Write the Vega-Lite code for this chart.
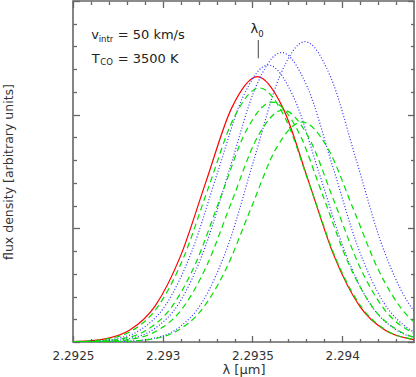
{
  "$schema": "https://vega.github.io/schema/vega-lite/v6.json",
  "width": 341,
  "height": 341,
  "autosize": {"type": "none"},
  "padding": {"left": 73, "top": 1, "right": 2, "bottom": 35},
  "config": {
    "view": {"stroke": "#666", "strokeWidth": 1.6},
    "font": "DejaVu Sans",
    "axis": {"grid": false, "domain": false, "labelFont": "DejaVu Sans", "titleFont": "DejaVu Sans", "titleFontWeight": "normal", "tickColor": "#666", "tickWidth": 1.3, "labelColor": "#333", "titleColor": "#333"}
  },
  "datasets": {
    "curves": [
      {"curve": "R", "lam": 2.292387, "flux": 0.0008},
      {"curve": "R", "lam": 2.2925295, "flux": 0.0051},
      {"curve": "R", "lam": 2.292672, "flux": 0.0259},
      {"curve": "R", "lam": 2.2928145, "flux": 0.1026},
      {"curve": "R", "lam": 2.292957, "flux": 0.3159},
      {"curve": "R", "lam": 2.2930995, "flux": 0.7577},
      {"curve": "R", "lam": 2.293242, "flux": 1.4156},
      {"curve": "R", "lam": 2.2933845, "flux": 2.0598},
      {"curve": "R", "lam": 2.293527, "flux": 2.334},
      {"curve": "R", "lam": 2.2936695, "flux": 2.0598},
      {"curve": "R", "lam": 2.293812, "flux": 1.4156},
      {"curve": "R", "lam": 2.2939545, "flux": 0.7577},
      {"curve": "R", "lam": 2.294097, "flux": 0.3159},
      {"curve": "R", "lam": 2.2942395, "flux": 0.1026},
      {"curve": "R", "lam": 2.294382, "flux": 0.0259},
      {"curve": "R", "lam": 2.2945245, "flux": 0.0051},
      {"curve": "B1", "lam": 2.292448, "flux": 0.0008},
      {"curve": "B1", "lam": 2.2925905, "flux": 0.0053},
      {"curve": "B1", "lam": 2.292733, "flux": 0.0271},
      {"curve": "B1", "lam": 2.2928755, "flux": 0.1071},
      {"curve": "B1", "lam": 2.293018, "flux": 0.3298},
      {"curve": "B1", "lam": 2.2931605, "flux": 0.7912},
      {"curve": "B1", "lam": 2.293303, "flux": 1.4781},
      {"curve": "B1", "lam": 2.2934455, "flux": 2.1507},
      {"curve": "B1", "lam": 2.293588, "flux": 2.437},
      {"curve": "B1", "lam": 2.2937305, "flux": 2.1507},
      {"curve": "B1", "lam": 2.293873, "flux": 1.4781},
      {"curve": "B1", "lam": 2.2940155, "flux": 0.7912},
      {"curve": "B1", "lam": 2.294158, "flux": 0.3298},
      {"curve": "B1", "lam": 2.2943005, "flux": 0.1071},
      {"curve": "B1", "lam": 2.294443, "flux": 0.0271},
      {"curve": "B2", "lam": 2.2923795, "flux": 0.0001},
      {"curve": "B2", "lam": 2.292522, "flux": 0.0009},
      {"curve": "B2", "lam": 2.2926645, "flux": 0.0056},
      {"curve": "B2", "lam": 2.292807, "flux": 0.0283},
      {"curve": "B2", "lam": 2.2929495, "flux": 0.1119},
      {"curve": "B2", "lam": 2.293092, "flux": 0.3447},
      {"curve": "B2", "lam": 2.2932345, "flux": 0.8269},
      {"curve": "B2", "lam": 2.293377, "flux": 1.5448},
      {"curve": "B2", "lam": 2.2935195, "flux": 2.2477},
      {"curve": "B2", "lam": 2.293662, "flux": 2.547},
      {"curve": "B2", "lam": 2.2938045, "flux": 2.2477},
      {"curve": "B2", "lam": 2.293947, "flux": 1.5448},
      {"curve": "B2", "lam": 2.2940895, "flux": 0.8269},
      {"curve": "B2", "lam": 2.294232, "flux": 0.3447},
      {"curve": "B2", "lam": 2.2943745, "flux": 0.1119},
      {"curve": "B2", "lam": 2.294517, "flux": 0.0283},
      {"curve": "B3", "lam": 2.292368, "flux": 0},
      {"curve": "B3", "lam": 2.2925105, "flux": 0.0001},
      {"curve": "B3", "lam": 2.292653, "flux": 0.0009},
      {"curve": "B3", "lam": 2.2927955, "flux": 0.0058},
      {"curve": "B3", "lam": 2.292938, "flux": 0.0294},
      {"curve": "B3", "lam": 2.2930805, "flux": 0.1161},
      {"curve": "B3", "lam": 2.293223, "flux": 0.3576},
      {"curve": "B3", "lam": 2.2933655, "flux": 0.8577},
      {"curve": "B3", "lam": 2.293508, "flux": 1.6025},
      {"curve": "B3", "lam": 2.2936505, "flux": 2.3316},
      {"curve": "B3", "lam": 2.293793, "flux": 2.642},
      {"curve": "B3", "lam": 2.2939355, "flux": 2.3316},
      {"curve": "B3", "lam": 2.294078, "flux": 1.6025},
      {"curve": "B3", "lam": 2.2942205, "flux": 0.8577},
      {"curve": "B3", "lam": 2.294363, "flux": 0.3576},
      {"curve": "B3", "lam": 2.2945055, "flux": 0.1161},
      {"curve": "G1", "lam": 2.292399, "flux": 0.0008},
      {"curve": "G1", "lam": 2.2925415, "flux": 0.0049},
      {"curve": "G1", "lam": 2.292684, "flux": 0.0248},
      {"curve": "G1", "lam": 2.2928265, "flux": 0.0982},
      {"curve": "G1", "lam": 2.292969, "flux": 0.3025},
      {"curve": "G1", "lam": 2.2931115, "flux": 0.7256},
      {"curve": "G1", "lam": 2.293254, "flux": 1.3556},
      {"curve": "G1", "lam": 2.2933965, "flux": 1.9724},
      {"curve": "G1", "lam": 2.293539, "flux": 2.235},
      {"curve": "G1", "lam": 2.2936815, "flux": 1.9724},
      {"curve": "G1", "lam": 2.293824, "flux": 1.3556},
      {"curve": "G1", "lam": 2.2939665, "flux": 0.7256},
      {"curve": "G1", "lam": 2.294109, "flux": 0.3025},
      {"curve": "G1", "lam": 2.2942515, "flux": 0.0982},
      {"curve": "G1", "lam": 2.294394, "flux": 0.0248},
      {"curve": "G1", "lam": 2.2945365, "flux": 0.0049},
      {"curve": "G2", "lam": 2.2923265, "flux": 0.0001},
      {"curve": "G2", "lam": 2.292469, "flux": 0.0007},
      {"curve": "G2", "lam": 2.2926115, "flux": 0.0046},
      {"curve": "G2", "lam": 2.292754, "flux": 0.0235},
      {"curve": "G2", "lam": 2.2928965, "flux": 0.0928},
      {"curve": "G2", "lam": 2.293039, "flux": 0.2857},
      {"curve": "G2", "lam": 2.2931815, "flux": 0.6853},
      {"curve": "G2", "lam": 2.293324, "flux": 1.2804},
      {"curve": "G2", "lam": 2.2934665, "flux": 1.863},
      {"curve": "G2", "lam": 2.293609, "flux": 2.111},
      {"curve": "G2", "lam": 2.2937515, "flux": 1.863},
      {"curve": "G2", "lam": 2.293894, "flux": 1.2804},
      {"curve": "G2", "lam": 2.2940365, "flux": 0.6853},
      {"curve": "G2", "lam": 2.294179, "flux": 0.2857},
      {"curve": "G2", "lam": 2.2943215, "flux": 0.0928},
      {"curve": "G2", "lam": 2.294464, "flux": 0.0235},
      {"curve": "G3", "lam": 2.2923875, "flux": 0.0001},
      {"curve": "G3", "lam": 2.29253, "flux": 0.0007},
      {"curve": "G3", "lam": 2.2926725, "flux": 0.0045},
      {"curve": "G3", "lam": 2.292815, "flux": 0.0227},
      {"curve": "G3", "lam": 2.2929575, "flux": 0.0897},
      {"curve": "G3", "lam": 2.2931, "flux": 0.2762},
      {"curve": "G3", "lam": 2.2932425, "flux": 0.6626},
      {"curve": "G3", "lam": 2.293385, "flux": 1.2379},
      {"curve": "G3", "lam": 2.2935275, "flux": 1.8012},
      {"curve": "G3", "lam": 2.29367, "flux": 2.041},
      {"curve": "G3", "lam": 2.2938125, "flux": 1.8012},
      {"curve": "G3", "lam": 2.293955, "flux": 1.2379},
      {"curve": "G3", "lam": 2.2940975, "flux": 0.6626},
      {"curve": "G3", "lam": 2.29424, "flux": 0.2762},
      {"curve": "G3", "lam": 2.2943825, "flux": 0.0897},
      {"curve": "G3", "lam": 2.294525, "flux": 0.0227},
      {"curve": "G4", "lam": 2.292351, "flux": 0},
      {"curve": "G4", "lam": 2.2924935, "flux": 0.0001},
      {"curve": "G4", "lam": 2.292636, "flux": 0.0007},
      {"curve": "G4", "lam": 2.2927785, "flux": 0.0042},
      {"curve": "G4", "lam": 2.292921, "flux": 0.0215},
      {"curve": "G4", "lam": 2.2930635, "flux": 0.085},
      {"curve": "G4", "lam": 2.293206, "flux": 0.2619},
      {"curve": "G4", "lam": 2.2933485, "flux": 0.6282},
      {"curve": "G4", "lam": 2.293491, "flux": 1.1736},
      {"curve": "G4", "lam": 2.2936335, "flux": 1.7076},
      {"curve": "G4", "lam": 2.293776, "flux": 1.935},
      {"curve": "G4", "lam": 2.2939185, "flux": 1.7076},
      {"curve": "G4", "lam": 2.294061, "flux": 1.1736},
      {"curve": "G4", "lam": 2.2942035, "flux": 0.6282},
      {"curve": "G4", "lam": 2.294346, "flux": 0.2619},
      {"curve": "G4", "lam": 2.2944885, "flux": 0.085}
    ],
    "anchor": [{"lam": 2.2925, "flux": 0}],
    "marker": [{"lam": 2.2935325, "flux": 2.496, "flux2": 2.657}],
    "mainText": [
      {"label": "v", "lam": 2.292602, "flux": 2.6656},
      {"label": "= 50 km/s", "lam": 2.292749, "flux": 2.6656},
      {"label": "T", "lam": 2.292604, "flux": 2.457},
      {"label": "= 3500 K", "lam": 2.292749, "flux": 2.457},
      {"label": "λ", "lam": 2.293489, "flux": 2.716}
    ],
    "subText": [
      {"label": "intr", "lam": 2.292643, "flux": 2.642},
      {"label": "CO", "lam": 2.292652, "flux": 2.436},
      {"label": "0", "lam": 2.2935325, "flux": 2.686}
    ]
  },
  "resolve": {"axis": {"x": "independent", "y": "independent"}},
  "layer": [
    {
      "data": {"name": "curves"},
      "transform": [{"filter": {"field": "curve", "equal": "R"}}],
      "mark": {"type": "line", "color": "#ff0000", "strokeWidth": 1.2, "interpolate": "monotone", "clip": true},
      "encoding": {
        "x": {"field": "lam", "type": "quantitative", "scale": {"domain": [2.2925, 2.2944], "nice": false, "zero": false},
          "axis": {"orient": "bottom", "values": [2.2925, 2.293, 2.2935, 2.294], "format": ".4~f", "ticks": false, "labelFontSize": 12, "labelPadding": 8.5, "labelFlush": false, "labelOverlap": false, "title": "λ [μm]", "titleFontSize": 13, "titleY": 31, "titleBaseline": "alphabetic"}},
        "y": {"field": "flux", "type": "quantitative", "scale": {"domain": [0, 3], "nice": false, "zero": false},
          "axis": {"orient": "left", "labels": false, "ticks": false, "title": "flux density [arbitrary units]", "titleFontSize": 12.5, "titleX": -65, "titleY": 170.5, "titleAngle": -90, "titleAlign": "center", "titleBaseline": "middle"}}
      }
    },
    {
      "data": {"name": "curves"},
      "transform": [{"filter": {"field": "curve", "oneOf": ["B1", "B2", "B3"]}}],
      "mark": {"type": "line", "color": "#3030ff", "strokeWidth": 1.2, "strokeDash": [1, 2], "interpolate": "monotone", "clip": true},
      "encoding": {
        "x": {"field": "lam", "type": "quantitative", "scale": {"domain": [2.2925, 2.2944], "nice": false, "zero": false}, "axis": null},
        "y": {"field": "flux", "type": "quantitative", "scale": {"domain": [0, 3], "nice": false, "zero": false}, "axis": null},
        "detail": {"field": "curve"}
      }
    },
    {
      "data": {"name": "curves"},
      "transform": [{"filter": {"field": "curve", "oneOf": ["G1", "G2", "G3", "G4"]}}],
      "mark": {"type": "line", "color": "#00e000", "strokeWidth": 1.2, "strokeDash": [6, 4], "interpolate": "monotone", "clip": true},
      "encoding": {
        "x": {"field": "lam", "type": "quantitative", "scale": {"domain": [2.2925, 2.2944], "nice": false, "zero": false}, "axis": null},
        "y": {"field": "flux", "type": "quantitative", "scale": {"domain": [0, 3], "nice": false, "zero": false}, "axis": null},
        "detail": {"field": "curve"}
      }
    },
    {
      "data": {"name": "marker"},
      "mark": {"type": "rule", "color": "#444", "strokeWidth": 1},
      "encoding": {
        "x": {"field": "lam", "type": "quantitative", "scale": {"domain": [2.2925, 2.2944], "nice": false, "zero": false}, "axis": null},
        "y": {"field": "flux", "type": "quantitative", "scale": {"domain": [0, 3], "nice": false, "zero": false}, "axis": null},
        "y2": {"field": "flux2"}
      }
    },
    {
      "data": {"name": "mainText"},
      "mark": {"type": "text", "align": "left", "baseline": "alphabetic", "font": "DejaVu Sans", "fontSize": 13, "color": "#222"},
      "encoding": {
        "x": {"field": "lam", "type": "quantitative", "scale": {"domain": [2.2925, 2.2944], "nice": false, "zero": false}, "axis": null},
        "y": {"field": "flux", "type": "quantitative", "scale": {"domain": [0, 3], "nice": false, "zero": false}, "axis": null},
        "text": {"field": "label"}
      }
    },
    {
      "data": {"name": "subText"},
      "mark": {"type": "text", "align": "left", "baseline": "alphabetic", "font": "DejaVu Sans", "fontSize": 8.5, "color": "#222"},
      "encoding": {
        "x": {"field": "lam", "type": "quantitative", "scale": {"domain": [2.2925, 2.2944], "nice": false, "zero": false}, "axis": null},
        "y": {"field": "flux", "type": "quantitative", "scale": {"domain": [0, 3], "nice": false, "zero": false}, "axis": null},
        "text": {"field": "label"}
      }
    },
    {
      "data": {"name": "anchor"},
      "mark": {"type": "point", "opacity": 0},
      "encoding": {
        "x": {"field": "lam", "type": "quantitative", "scale": {"domain": [2.2925, 2.2944], "nice": false, "zero": false},
          "axis": {"orient": "bottom", "values": [2.2925, 2.293, 2.2935, 2.294], "labels": false, "tickSize": -6.5, "title": null}},
        "y": {"field": "flux", "type": "quantitative", "scale": {"domain": [0, 3], "nice": false, "zero": false},
          "axis": {"orient": "left", "values": [0, 1, 2, 3], "labels": false, "tickSize": -6.5, "title": null}}
      }
    },
    {
      "data": {"name": "anchor"},
      "mark": {"type": "point", "opacity": 0},
      "encoding": {
        "x": {"field": "lam", "type": "quantitative", "scale": {"domain": [2.2925, 2.2944], "nice": false, "zero": false},
          "axis": {"orient": "bottom", "values": [2.2926, 2.2927, 2.2928, 2.2929, 2.2931, 2.2932, 2.2933, 2.2934, 2.2936, 2.2937, 2.2938, 2.2939, 2.2941, 2.2942, 2.2943], "labels": false, "tickSize": -3.5, "title": null}},
        "y": {"field": "flux", "type": "quantitative", "scale": {"domain": [0, 3], "nice": false, "zero": false},
          "axis": {"orient": "left", "values": [0.2, 0.4, 0.6, 0.8, 1.2, 1.4, 1.6, 1.8, 2.2, 2.4, 2.6, 2.8], "labels": false, "tickSize": -3.5, "title": null}}
      }
    },
    {
      "data": {"name": "anchor"},
      "mark": {"type": "point", "opacity": 0},
      "encoding": {
        "x": {"field": "lam", "type": "quantitative", "scale": {"domain": [2.2925, 2.2944], "nice": false, "zero": false},
          "axis": {"orient": "top", "values": [2.2925, 2.293, 2.2935, 2.294], "labels": false, "tickSize": -6.5, "title": null}},
        "y": {"field": "flux", "type": "quantitative", "scale": {"domain": [0, 3], "nice": false, "zero": false},
          "axis": {"orient": "right", "values": [0, 1, 2, 3], "labels": false, "tickSize": -6.5, "title": null}}
      }
    },
    {
      "data": {"name": "anchor"},
      "mark": {"type": "point", "opacity": 0},
      "encoding": {
        "x": {"field": "lam", "type": "quantitative", "scale": {"domain": [2.2925, 2.2944], "nice": false, "zero": false},
          "axis": {"orient": "top", "values": [2.2926, 2.2927, 2.2928, 2.2929, 2.2931, 2.2932, 2.2933, 2.2934, 2.2936, 2.2937, 2.2938, 2.2939, 2.2941, 2.2942, 2.2943], "labels": false, "tickSize": -3.5, "title": null}},
        "y": {"field": "flux", "type": "quantitative", "scale": {"domain": [0, 3], "nice": false, "zero": false},
          "axis": {"orient": "right", "values": [0.2, 0.4, 0.6, 0.8, 1.2, 1.4, 1.6, 1.8, 2.2, 2.4, 2.6, 2.8], "labels": false, "tickSize": -3.5, "title": null}}
      }
    }
  ]
}
